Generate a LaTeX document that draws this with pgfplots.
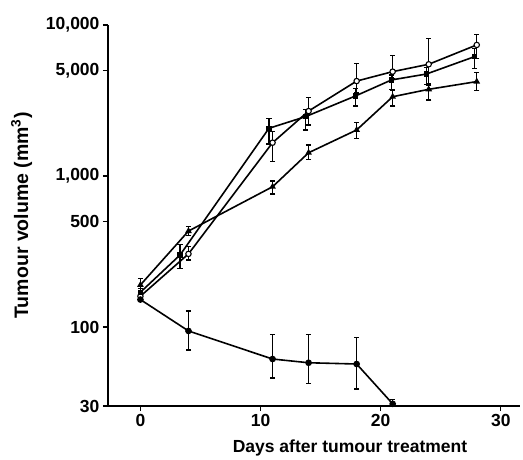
\documentclass[border=0pt]{standalone}
\usepackage{fontspec}
\setmainfont{Liberation Sans}
\usepackage{pgfplots}
\pgfplotsset{compat=1.18}
\begin{document}
\begin{tikzpicture}
\begin{axis}[
    scale only axis,
    width=412pt, height=381pt,
    ymode=log,
    xmin=-2.7, xmax=31.6,
    ymin=30, ymax=10000,
    axis x line*=bottom, axis y line*=left,
    axis line style={-, line width=1.5pt},
    tick align=outside,
    major tick length=5pt,
    tick style={line width=1.3pt, black},
    xtick={0,10,20,30},
    xticklabels={0,10,20,30},
    ytick={30,100,500,1000,5000,10000},
    yticklabels={30,100,500,{1,000},{5,000},{10,000}},
    yminorticks=false,
    ticklabel style={font=\fontsize{17.5}{19}\selectfont\bfseries},
    xlabel={Days after tumour treatment},
    ylabel={Tumour volume (mm\textsuperscript{3})},
    xlabel style={font=\fontsize{17.5}{19}\selectfont\bfseries, xshift=36pt, yshift=-6pt},
    ylabel style={font=\fontsize{19.5}{21}\selectfont\bfseries, yshift=7pt},
    clip=false,
    every axis plot/.append style={black, line width=1.6pt},
    error bars/y dir=both,
    error bars/y explicit,
    error bars/error bar style={line width=1.3pt},
    error bars/error mark options={rotate=90, mark size=2.6pt, line width=1.3pt},
]
% open circles
\addplot[mark=*, mark options={fill=white, line width=1.1pt}, mark size=2.7pt] coordinates {
    (0,160) += (0,10) -= (0,10)
    (4,305) += (0,35) -= (0,27)
    (11,1662) += (0,300) -= (0,417)
    (14,2692) += (0,613) -= (0,514)
    (18,4253) += (0,1319) -= (0,705)
    (21,4911) += (0,1355) -= (0,500)
    (24,5495) += (0,2668) -= (0,1486)
    (28,7380) += (0,1292) -= (0,1370)
};
% filled squares
\addplot[mark=square*, mark size=1.9pt] coordinates {
    (0,170) += (0,10) -= (0,10)
    (3.3,300) += (0,53) -= (0,55)
    (10.7,2070) += (0,340) -= (0,441)
    (13.75,2473) += (0,294) -= (0,455)
    (17.9,3388) += (0,424) -= (0,477)
    (20.9,4327) += (0,340) -= (0,576)
    (23.8,4733) += (0,500) -= (0,700)
    (27.8,6166) += (0,847) -= (0,1003)
};
% filled triangles
\addplot[mark=triangle*, mark size=2.3pt] coordinates {
    (0,190) += (0,20) -= (0,20)
    (4,432) += (0,29) -= (0,29)
    (11,849) += (0,78) -= (0,89)
    (14,1426) += (0,177) -= (0,135)
    (18,2018) += (0,236) -= (0,240)
    (21,3350) += (0,365) -= (0,439)
    (24,3751) += (0,360) -= (0,566)
    (28,4220) += (0,607) -= (0,547)
};
% treated, filled circles
\addplot[mark=*, mark size=2.5pt] coordinates {
    (0,152) += (0,5) -= (0,5)
    (4,94.2) += (0,33.5) -= (0,23.7)
    (11,61.4) += (0,28) -= (0,15.5)
    (14,58) += (0,31.6) -= (0,15.6)
    (18,56.9) += (0,28.6) -= (0,18.1)
    (21,31) += (0,2) -= (0,1)
};
\end{axis}
\path[use as bounding box] ([shift={(-108pt,-54pt)}]current axis.south west) rectangle ([shift={(3pt,25pt)}]current axis.north east);
\end{tikzpicture}
\end{document}
